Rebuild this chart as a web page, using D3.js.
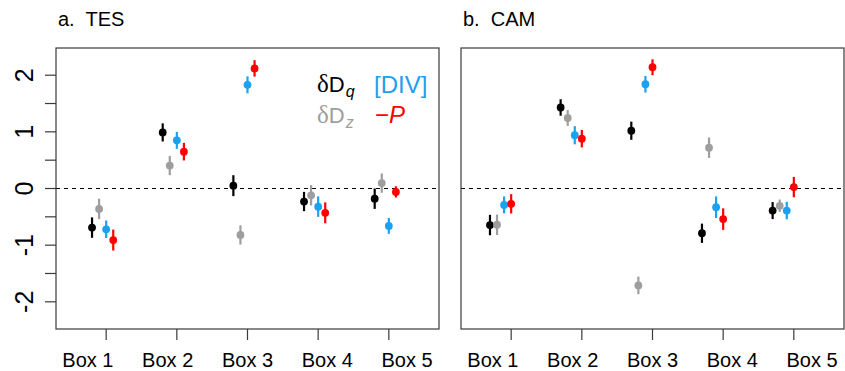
<!DOCTYPE html>
<html>
<head>
<meta charset="utf-8">
<script src="https://cdn.jsdelivr.net/npm/d3@7"></script>
<style>
  html, body { margin: 0; padding: 0; background: #fff; }
  svg { display: block; font-family: "Liberation Sans", Arial, Helvetica, sans-serif; }
</style>
</head>
<body>
<svg id="chart" width="845" height="371"></svg>
<script>
// Category labels along the x axis
const boxes = ["Box 1", "Box 2", "Box 3", "Box 4", "Box 5"];
const yTicks = [-2, -1.5, -1, -0.5, 0, 0.5, 1, 1.5, 2];
const yTickLabels = [-2, -1, 0, 1, 2];

// Series order within each box: δDq, δDz, [DIV], −P
const seriesKeys = ["dDq", "dDz", "DIV", "negP"];
const seriesColors = ["#000000", "#9e9e9e", "#1ba1ee", "#ff0000"];

// TES: standardized anomalies and their error half-widths
const tesDDq  = [-0.69, 0.99, 0.05, -0.23, -0.18];
const tesDDz  = [-0.36, 0.405, -0.82, -0.12, 0.095];
const tesDIV  = [-0.72, 0.85, 1.83, -0.32, -0.66];
const tesNegP = [-0.91, 0.65, 2.12, -0.43, -0.06];
const tesErrDDq  = [0.18, 0.16, 0.185, 0.17, 0.18];
const tesErrDDz  = [0.18, 0.17, 0.17, 0.18, 0.17];
const tesErrDIV  = [0.155, 0.15, 0.15, 0.18, 0.14];
const tesErrNegP = [0.185, 0.155, 0.145, 0.185, 0.10];

// CAM: standardized anomalies and their error half-widths
const camDDq  = [-0.645, 1.43, 1.02, -0.79, -0.39];
const camDDz  = [-0.64, 1.245, -1.71, 0.72, -0.305];
const camDIV  = [-0.29, 0.94, 1.84, -0.33, -0.39];
const camNegP = [-0.27, 0.88, 2.14, -0.54, 0.025];
const camErrDDq  = [0.18, 0.145, 0.16, 0.17, 0.15];
const camErrDDz  = [0.18, 0.14, 0.155, 0.18, 0.11];
const camErrDIV  = [0.15, 0.16, 0.147, 0.19, 0.155];
const camErrNegP = [0.17, 0.155, 0.14, 0.19, 0.18];

const panels = [
  { title: "a.  TES", left: 56, right: 439, yAxis: true,
    offsets: [-0.2, -0.1, 0, 0.1],
    values: [tesDDq, tesDDz, tesDIV, tesNegP],
    errors: [tesErrDDq, tesErrDDz, tesErrDIV, tesErrNegP] },
  { title: "b.  CAM", left: 461, right: 844, yAxis: false,
    offsets: [-0.3, -0.2, -0.1, 0],
    values: [camDDq, camDDz, camDIV, camNegP],
    errors: [camErrDDq, camErrDDz, camErrDIV, camErrNegP] }
];

const plotTop = 48, plotBottom = 329;
const svg = d3.select("#chart");
const y = d3.scaleLinear().domain([-2.48, 2.48]).range([plotBottom, plotTop]);
const frameColor = "#3a3a3a";

panels.forEach(p => {
  const g = svg.append("g");
  const x = d3.scaleLinear().domain([0.29, 5.71]).range([p.left, p.right]);
  const mid = (p.left + p.right) / 2;
  // label positions are spread a little wider than the ticks
  const xl = d3.scalePoint().domain(boxes).range([mid - 2 * 79.8, mid + 2 * 79.8]);

  // title
  g.append("text").attr("x", p.left + 2).attr("y", 26)
    .attr("font-size", 20).attr("fill", "#000")
    .style("white-space", "pre").text(p.title);

  // zero reference
  g.append("line")
    .attr("x1", p.left).attr("x2", p.right)
    .attr("y1", y(0)).attr("y2", y(0))
    .attr("stroke", "#000").attr("stroke-width", 1)
    .attr("stroke-dasharray", "4,4");

  // error bars and points
  p.values.forEach((vals, s) => {
    vals.forEach((v, i) => {
      const cx = x(i + 1 + p.offsets[s]);
      const e = p.errors[s][i];
      g.append("line")
        .attr("x1", cx).attr("x2", cx)
        .attr("y1", y(v - e)).attr("y2", y(v + e))
        .attr("stroke", seriesColors[s]).attr("stroke-width", 2.2);
      g.append("circle")
        .attr("cx", cx).attr("cy", y(v)).attr("r", 3.9)
        .attr("fill", seriesColors[s]);
    });
  });

  // frame
  g.append("rect")
    .attr("x", p.left).attr("y", plotTop)
    .attr("width", p.right - p.left).attr("height", plotBottom - plotTop)
    .attr("fill", "none").attr("stroke", frameColor).attr("stroke-width", 1.2);

  // x ticks
  g.selectAll(".xt").data(boxes).join("line")
    .attr("x1", (d, i) => x(i + 1)).attr("x2", (d, i) => x(i + 1))
    .attr("y1", plotBottom).attr("y2", plotBottom + 11)
    .attr("stroke", frameColor).attr("stroke-width", 1.2);
  g.selectAll(".xl").data(boxes).join("text")
    .attr("x", d => xl(d)).attr("y", 367)
    .attr("text-anchor", "middle").attr("font-size", 20)
    .attr("fill", "#000").text(d => d);

  if (p.yAxis) {
    g.selectAll(".yt").data(yTicks).join("line")
      .attr("x1", p.left - 11).attr("x2", p.left)
      .attr("y1", d => y(d)).attr("y2", d => y(d))
      .attr("stroke", frameColor).attr("stroke-width", 1.2);
    g.selectAll(".yl").data(yTickLabels).join("text")
      .attr("transform", d => `translate(33,${y(d)}) rotate(-90)`)
      .attr("text-anchor", "middle").attr("font-size", 25)
      .attr("fill", "#000").text(d => d < 0 ? "-" + Math.abs(d) : String(d));
  }
});

// legend inside panel a
const leg = svg.append("g").attr("font-size", 22);
function deltaLabel(xPos, yPos, sub, color) {
  const t = leg.append("text").attr("x", xPos).attr("y", yPos).attr("fill", color);
  t.append("tspan").attr("font-family", "'Liberation Serif', 'DejaVu Serif', serif").attr("font-size", 25).text("δ");
  t.append("tspan").text("D");
  t.append("tspan").attr("font-size", 16).attr("font-style", "italic").attr("dx", 1).attr("dy", 5).text(sub);
}
deltaLabel(317, 92, "q", seriesColors[0]);
deltaLabel(317, 123, "z", seriesColors[1]);
leg.append("text").attr("x", 374).attr("y", 93).attr("fill", seriesColors[2]).attr("font-size", 24).text("[DIV]");
const pTxt = leg.append("text").attr("x", 375).attr("y", 123).attr("fill", seriesColors[3]).attr("font-size", 24);
pTxt.append("tspan").text("\u2212");
pTxt.append("tspan").attr("font-style", "italic").text("P");
</script>
</body>
</html>
